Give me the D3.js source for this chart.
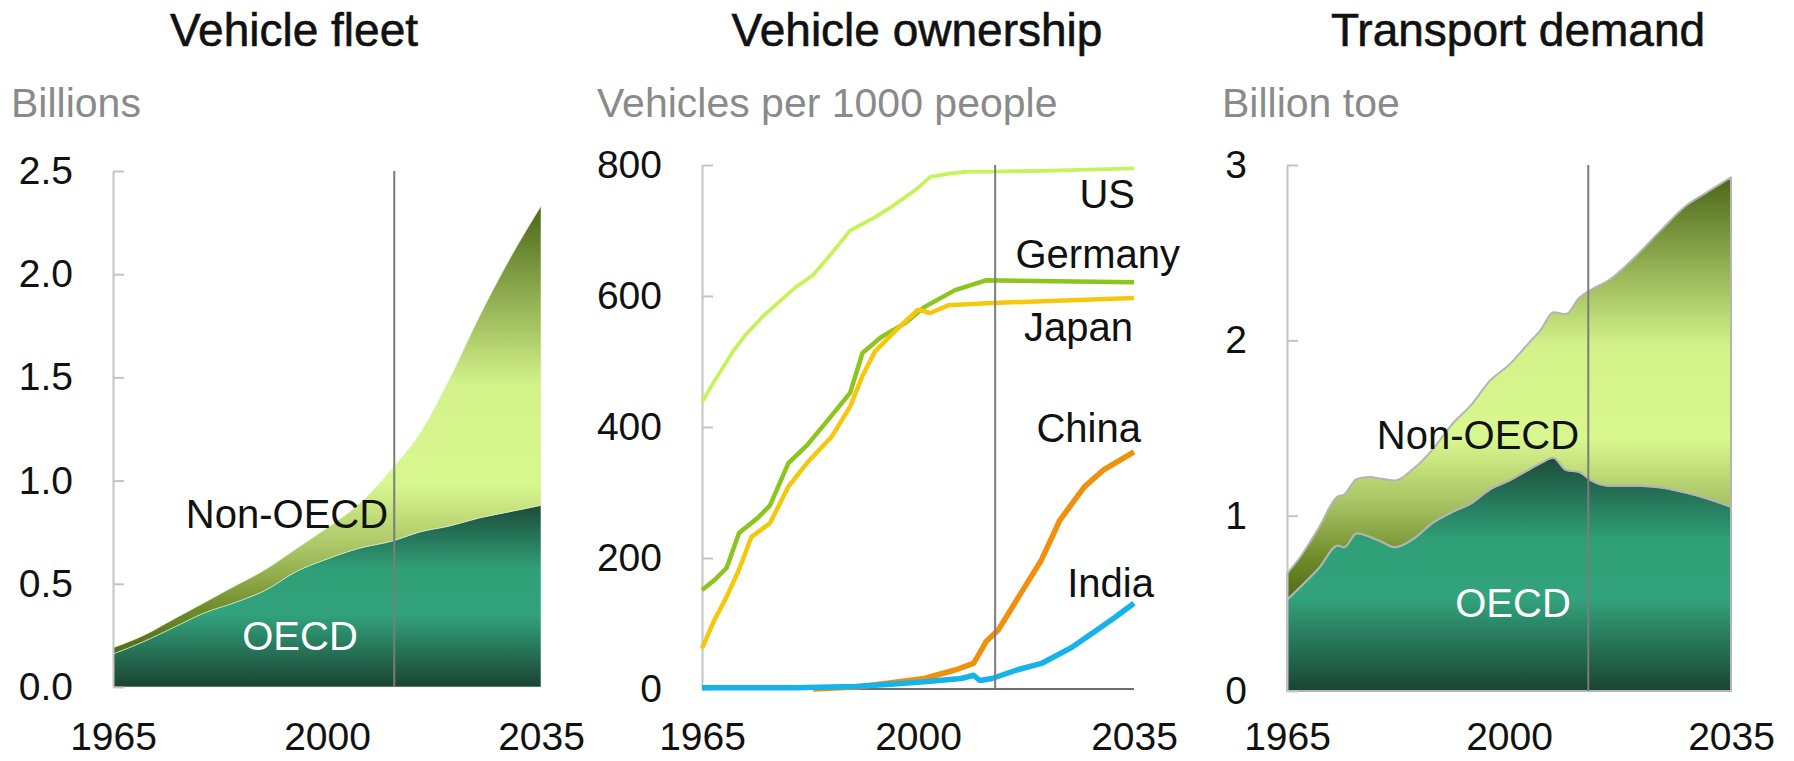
<!DOCTYPE html>
<html>
<head>
<meta charset="utf-8">
<script src="https://cdn.jsdelivr.net/npm/d3@7"></script>
<style>
  html, body { margin: 0; padding: 0; background: #ffffff; }
  svg { display: block; font-family: "Liberation Sans", Arial, sans-serif; }
</style>
</head>
<body>
<svg id="chart" width="1794" height="761"></svg>
<script>
// ---------------- DATA ----------------
const titles = ["Vehicle fleet", "Vehicle ownership", "Transport demand"];
const units = ["Billions", "Vehicles per 1000 people", "Billion toe"];
const xTickYears = [1965, 2000, 2035];
const historyEndYears = [2011, 2012.5, 2012.5];

// Panel 1: Vehicle fleet (billions)
const fleetYears = [1965, 1970, 1975, 1980, 1985, 1990, 1995, 2000, 2005, 2011, 2015, 2020, 2025, 2030, 2035];
const fleetOECD = [0.16, 0.22, 0.29, 0.36, 0.41, 0.47, 0.56, 0.62, 0.67, 0.71, 0.75, 0.78, 0.82, 0.85, 0.88];
const fleetNonOECD = [0.03, 0.03, 0.04, 0.05, 0.08, 0.10, 0.11, 0.15, 0.21, 0.36, 0.47, 0.71, 0.98, 1.23, 1.45];
const fleetTicks = [0, 0.5, 1.0, 1.5, 2.0, 2.5];

// Panel 2: Vehicle ownership (vehicles per 1000 people)
const usYears = [1965, 1967, 1970, 1972, 1975, 1980, 1983, 1986, 1989, 1993, 1996, 2000, 2002, 2005, 2008, 2012, 2020, 2035];
const usValues = [438, 470, 515, 540, 570, 612, 632, 665, 700, 720, 738, 765, 782, 787, 790, 790, 791, 795];
const germanyYears = [1965, 1967, 1969, 1971, 1974, 1976, 1979, 1982, 1985, 1989, 1991, 1994, 1998, 2001, 2006, 2011, 2035];
const germanyValues = [151, 166, 185, 238, 261, 280, 345, 372, 406, 452, 513, 537, 559, 583, 609, 624, 621];
const japanYears = [1965, 1967, 1969, 1971, 1973, 1976, 1979, 1982, 1986, 1989, 1991, 1993, 1997, 2000, 2002, 2005, 2011, 2035];
const japanValues = [62, 105, 141, 182, 232, 253, 309, 345, 385, 431, 478, 515, 553, 579, 574, 586, 589, 597];
const chinaYears = [1983, 1990, 1995, 2001, 2006, 2009, 2010, 2011, 2013, 2016, 2020, 2023, 2027, 2030, 2035];
const chinaValues = [0, 3, 9, 16, 29, 39, 55, 72, 90, 136, 197, 258, 309, 334, 362];
const indiaYears = [1965, 1980, 1990, 1995, 2001, 2007, 2009, 2010, 2012, 2016, 2020, 2025, 2029, 2032, 2035];
const indiaValues = [2, 2, 4, 7, 11, 16, 21, 13, 16, 29, 39, 64, 90, 110, 131];
const ownershipTicks = [0, 200, 400, 600, 800];
const countryNames = ["US", "Germany", "Japan", "China", "India"];

// Panel 3: Transport demand (billion toe)
const demandYears = [1965, 1967, 1970, 1973, 1974, 1976, 1978, 1980, 1982, 1985, 1988, 1991, 1994, 1997, 2000, 2003, 2005, 2007, 2009, 2011, 2013, 2016, 2020, 2024, 2028, 2031, 2035];
const demandOECD = [0.52, 0.59, 0.70, 0.83, 0.82, 0.90, 0.88, 0.85, 0.82, 0.87, 0.96, 1.02, 1.07, 1.15, 1.20, 1.26, 1.30, 1.33, 1.26, 1.25, 1.20, 1.17, 1.17, 1.16, 1.13, 1.10, 1.05];
const demandNonOECD = [0.15, 0.17, 0.23, 0.28, 0.30, 0.31, 0.34, 0.36, 0.38, 0.40, 0.42, 0.50, 0.56, 0.62, 0.66, 0.72, 0.76, 0.83, 0.89, 0.99, 1.09, 1.18, 1.31, 1.47, 1.64, 1.74, 1.88];
const demandTicks = [0, 1, 2, 3];
const regionNames = ["OECD", "Non-OECD"];

// ---------------- LAYOUT ----------------
const TICK_FONT = 39;
const UNIT_FONT = 41;
const LABEL_FONT = 40;
const X_LABEL_BASELINE = 750;
const panels = [
  { left: 113, right: 541, top: 171, bottom: 687, yMax: 2.5, ticks: fleetTicks, fmt: d3.format(".1f"), titleX: 294, unitX: 11 },
  { left: 702, right: 1134, top: 165, bottom: 689, yMax: 800, ticks: ownershipTicks, fmt: d3.format("d"), titleX: 917, unitX: 597 },
  { left: 1287, right: 1731, top: 165, bottom: 691, yMax: 3, ticks: demandTicks, fmt: d3.format("d"), titleX: 1518, unitX: 1222 }
];

const svg = d3.select("#chart");
const defs = svg.append("defs");

function vGrad(id, stops) {
  const g = defs.append("linearGradient").attr("id", id)
    .attr("x1", 0).attr("y1", 0).attr("x2", 0).attr("y2", 1);
  stops.forEach(s => g.append("stop").attr("offset", s[0]).attr("stop-color", s[1]));
}
vGrad("gNon", [[0, "#4b6618"], [0.4, "#d4f28a"], [0.62, "#d9f78f"], [0.78, "#a4bf60"], [0.9, "#6f8c2a"], [1, "#4e6b17"]]);
vGrad("gOECD", [[0, "#1c4c3b"], [0.35, "#2f9f78"], [0.6, "#32a37c"], [1, "#1a4334"]]);

panels.forEach(p => {
  p.x = d3.scaleLinear().domain([1965, 2035]).range([p.left, p.right]);
  p.y = d3.scaleLinear().domain([0, p.yMax]).range([p.bottom, p.top]);
});

// Titles & unit labels
panels.forEach((p, i) => {
  svg.append("text").attr("x", p.titleX).attr("y", 46)
    .attr("text-anchor", "middle").attr("font-size", 46).attr("fill", "#111")
    .attr("stroke", "#111").attr("stroke-width", 0.6)
    .text(titles[i]);
  svg.append("text").attr("x", p.unitX).attr("y", 117)
    .attr("font-size", UNIT_FONT).attr("fill", "#8a8a8a")
    .text(units[i]);
});

// ---------- stacked area panels ----------
function stackedPanel(p, years, oecd, nonOecd, strokeCol, strokeW) {
  const rows = years.map((yr, k) => ({ year: yr, OECD: oecd[k], "Non-OECD": nonOecd[k] }));
  const series = d3.stack().keys(regionNames)(rows);
  const area = d3.area()
    .x(d => p.x(d.data.year))
    .y0(d => p.y(d[0]))
    .y1(d => p.y(d[1]))
    .curve(d3.curveMonotoneX);
  const g = svg.append("g");
  g.selectAll("path").data(series).join("path")
    .attr("d", area)
    .attr("fill", d => d.key === "OECD" ? "url(#gOECD)" : "url(#gNon)")
    .attr("stroke", strokeCol).attr("stroke-width", strokeW)
    .attr("stroke-linejoin", "round");
  return g;
}

stackedPanel(panels[0], fleetYears, fleetOECD, fleetNonOECD, "rgba(230,245,220,0.6)", 1);
stackedPanel(panels[2], demandYears, demandOECD, demandNonOECD, "#b4b4b4", 2);

// ---------- line panel ----------
const p2 = panels[1];
const lineGen = d3.line().x(d => p2.x(d[0])).y(d => p2.y(d[1])).curve(d3.curveLinear);
const countrySeries = [
  { name: "US", years: usYears, values: usValues, color: "#c6f25a", w: 3.8 },
  { name: "Germany", years: germanyYears, values: germanyValues, color: "#8cc51c", w: 4.5 },
  { name: "Japan", years: japanYears, values: japanValues, color: "#f6c80c", w: 4.5 },
  { name: "China", years: chinaYears, values: chinaValues, color: "#f0900c", w: 5.5 },
  { name: "India", years: indiaYears, values: indiaValues, color: "#16b2ea", w: 5.5 }
];
svg.append("line").attr("x1", p2.left).attr("x2", p2.right)
  .attr("y1", p2.bottom).attr("y2", p2.bottom)
  .attr("stroke", "#6e6e6e").attr("stroke-width", 2);

// ---------- axes ----------
panels.forEach(p => {
  const yAxis = d3.axisLeft(p.y).tickValues(p.ticks).tickFormat(p.fmt)
    .tickSizeInner(-11).tickSizeOuter(0).tickPadding(40);
  const gy = svg.append("g").attr("transform", `translate(${p.left},0)`).call(yAxis);
  gy.attr("font-family", null);
  gy.select(".domain").attr("stroke", "#c4c4c4").attr("stroke-width", 2);
  gy.selectAll(".tick line").attr("stroke", "#c4c4c4").attr("stroke-width", 2);
  gy.selectAll(".tick text").attr("font-size", TICK_FONT).attr("fill", "#111");

  const pad = X_LABEL_BASELINE - p.bottom - 0.71 * TICK_FONT;
  const xAxis = d3.axisBottom(p.x).tickValues(xTickYears).tickFormat(d3.format("d"))
    .tickSize(0).tickPadding(pad);
  const gx = svg.append("g").attr("transform", `translate(0,${p.bottom})`).call(xAxis);
  gx.attr("font-family", null);
  gx.select(".domain").remove();
  gx.selectAll(".tick text").attr("font-size", TICK_FONT).attr("fill", "#111");
});

svg.append("g").selectAll("path").data(countrySeries).join("path")
  .attr("d", s => lineGen(s.years.map((yr, k) => [yr, s.values[k]])))
  .attr("fill", "none")
  .attr("stroke", s => s.color)
  .attr("stroke-width", s => s.w)
  .attr("stroke-linejoin", "round").attr("stroke-linecap", "butt");

// history / projection divider lines
panels.forEach((p, i) => {
  svg.append("line")
    .attr("x1", p.x(historyEndYears[i])).attr("x2", p.x(historyEndYears[i]))
    .attr("y1", p.top).attr("y2", p.bottom)
    .attr("stroke", "#7c7c7c").attr("stroke-width", 2);
});

// ---------- series labels ----------
const seriesLabels = [
  { text: regionNames[1], x: 287, y: 528, anchor: "middle", fill: "#111" },
  { text: regionNames[0], x: 300, y: 650, anchor: "middle", fill: "#ffffff" },
  { text: countryNames[0], x: 1135, y: 208, anchor: "end", fill: "#111" },
  { text: countryNames[1], x: 1180, y: 268, anchor: "end", fill: "#111" },
  { text: countryNames[2], x: 1133, y: 341, anchor: "end", fill: "#111" },
  { text: countryNames[3], x: 1141, y: 442, anchor: "end", fill: "#111" },
  { text: countryNames[4], x: 1154, y: 597, anchor: "end", fill: "#111" },
  { text: regionNames[1], x: 1478, y: 449, anchor: "middle", fill: "#111" },
  { text: regionNames[0], x: 1513, y: 617, anchor: "middle", fill: "#ffffff" }
];
svg.append("g").selectAll("text").data(seriesLabels).join("text")
  .attr("x", d => d.x).attr("y", d => d.y)
  .attr("text-anchor", d => d.anchor)
  .attr("font-size", LABEL_FONT).attr("fill", d => d.fill)
  .text(d => d.text);
</script>
</body>
</html>
